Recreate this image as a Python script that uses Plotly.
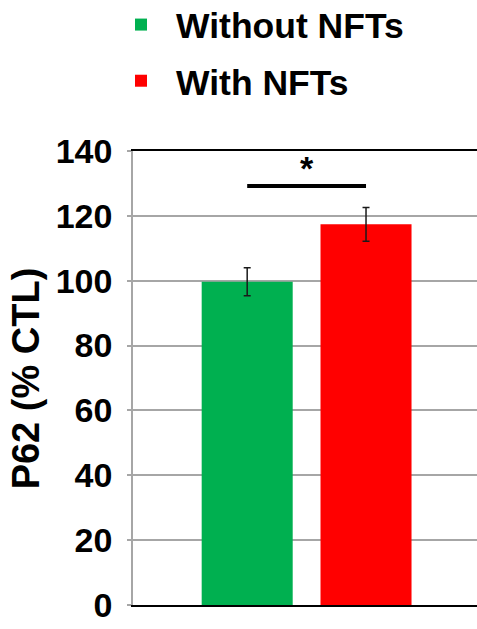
import plotly.graph_objects as go

groups = ["Without NFTs", "With NFTs"]
values = [99.7, 117.4]
errors = [4.3, 5.2]
colors = ["#00B050", "#FF0000"]
y_ticks = [0, 20, 40, 60, 80, 100, 120, 140]
y_title = "P62 (% CTL)"
sig_y = 129.2
sig_label = "*"

FONT = "Liberation Sans, Arial, sans-serif"

fig = go.Figure()
for i, (g, v, e, c) in enumerate(zip(groups, values, errors, colors)):
    fig.add_trace(go.Bar(
        x=[i], y=[v], name=g, marker=dict(color=c, line=dict(width=0)),
        width=0.766, legendgroup=g,
        error_y=dict(type="data", array=[e], color="#1a1a1a", thickness=1.5, width=3.5),
    ))

fig.add_shape(type="line", x0=0, x1=1, y0=sig_y, y1=sig_y, xref="x", yref="y",
              line=dict(color="black", width=4))
fig.add_annotation(x=0.5, y=sig_y, xref="x", yref="y", text=f"<b>{sig_label}</b>",
                   showarrow=False, yanchor="bottom", yshift=-3,
                   font=dict(family=FONT, size=34, color="black"))
fig.add_annotation(x=-0.31, y=0.5, xref="paper", yref="paper",
                   text=f"<b>{y_title}</b>", textangle=-90, showarrow=False,
                   xanchor="center", yanchor="middle",
                   font=dict(family=FONT, size=38, color="black"))

fig.update_layout(
    width=477, height=629,
    margin=dict(l=133, r=0, t=151, b=24, autoexpand=False),
    paper_bgcolor="white", plot_bgcolor="white",
    font=dict(family=FONT, color="black"),
    showlegend=True,
    legend=dict(
        xref="container", yref="paper", x=106/477, y=(454 + 151 + 5) / 454,
        xanchor="left", yanchor="top",
        font=dict(family=FONT, size=35.5, color="black", weight="bold"),
        itemwidth=60, tracegroupgap=7, traceorder="grouped",
        bgcolor="rgba(0,0,0,0)",
    ),
    xaxis=dict(range=[-0.961, 1.934], showticklabels=False, ticks="",
               showgrid=False, zeroline=False, showline=True, mirror=True,
               linecolor="black", linewidth=2, automargin=False),
    yaxis=dict(range=[0, 140], tickvals=y_ticks, showgrid=True, automargin=False,
               gridcolor="#a6a6a6", gridwidth=1.5, zeroline=False,
               showline=True, linecolor="#a6a6a6", linewidth=1.5,
               ticks="outside", ticklen=4, tickcolor="#a6a6a6", tickwidth=1.5,
               ticklabelstandoff=8,
               tickfont=dict(family=FONT, size=34, color="black", weight="bold")),
)

fig.write_html("out.html", config={"displayModeBar": False},
               post_script="document.body.style.margin='0';document.body.style.overflow='hidden';")
